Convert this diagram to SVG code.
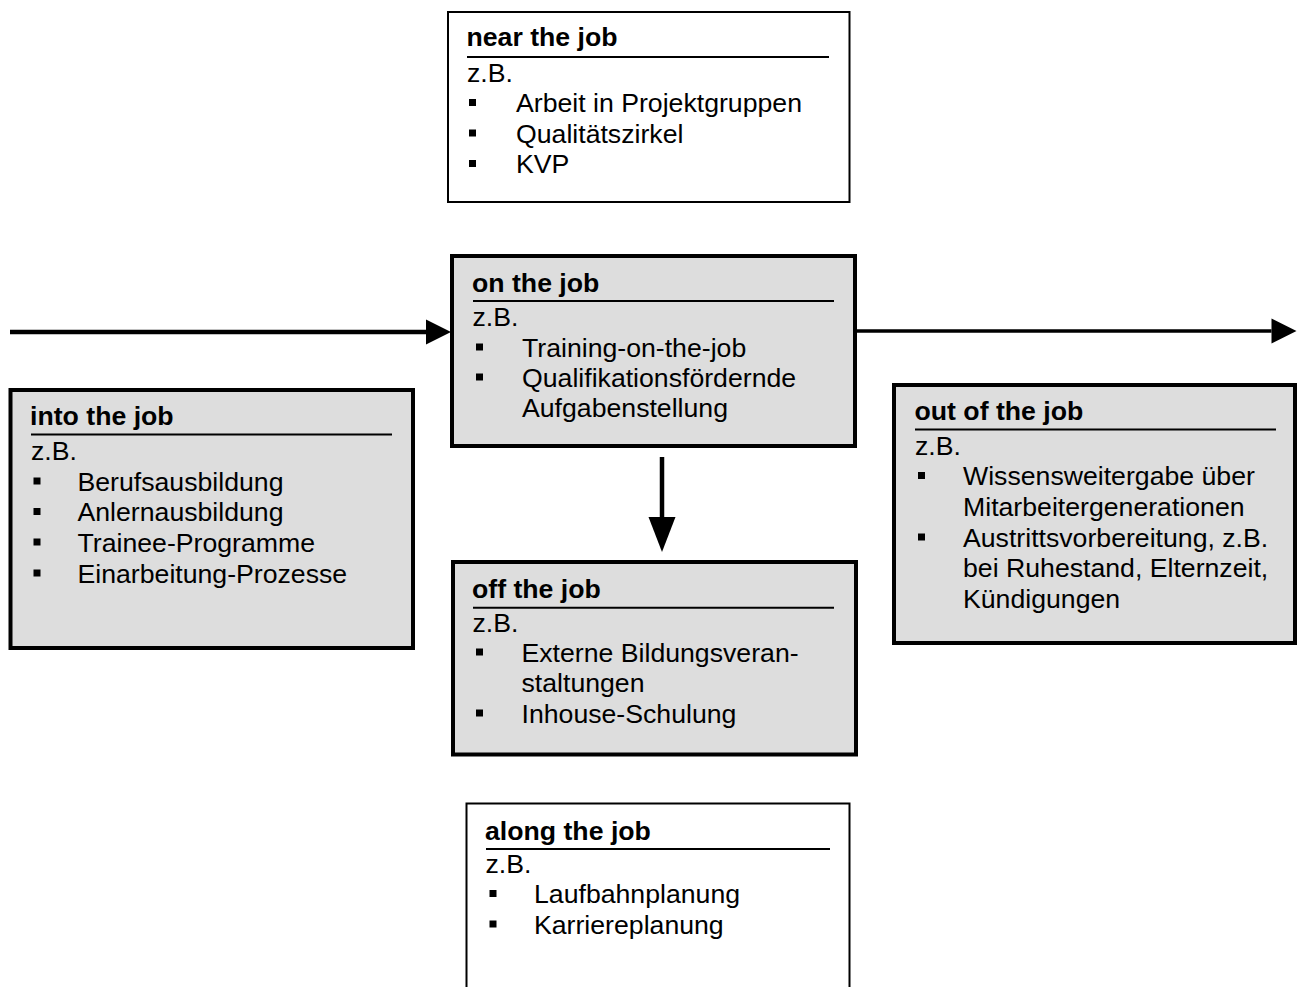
<svg xmlns="http://www.w3.org/2000/svg" width="1298" height="987" viewBox="0 0 1298 987">
<style>
.box{fill:#dddddd;stroke:#000;stroke-width:4}
.wbox{fill:#fff;stroke:#000;stroke-width:2}
text{font-family:"Liberation Sans",Arial,sans-serif;font-size:26.67px;fill:#000}
.t{font-weight:bold}
.ul{stroke:#000;stroke-width:2}
.conn{stroke:#000;fill:none}
</style>
<defs>
<marker id="ah" markerUnits="userSpaceOnUse" markerWidth="26" markerHeight="26" refX="0" refY="13" orient="auto" viewBox="0 0 26 26" overflow="visible">
<path d="M0,0.5 L25,13 L0,25.5 Z" fill="#000"/>
</marker>
<marker id="ahd" markerUnits="userSpaceOnUse" markerWidth="35" markerHeight="28" refX="0" refY="14" orient="auto" viewBox="0 0 35 28" overflow="visible">
<path d="M0,0.5 L35,14 L0,27.5 Z" fill="#000"/>
</marker>
<rect id="bl" width="7" height="7" fill="#000"/>
</defs>
<rect width="1298" height="987" fill="#fff"/>

<g id="connectors">
<line class="conn" x1="10" y1="332" x2="426" y2="332" stroke-width="4.5" marker-end="url(#ah)"/>
<line class="conn" x1="857" y1="331" x2="1271.5" y2="331" stroke-width="3.5" marker-end="url(#ah)"/>
<line class="conn" x1="662" y1="457" x2="662" y2="517" stroke-width="4.5" marker-end="url(#ahd)"/>
</g>

<g id="near">
<rect class="wbox" x="448" y="12" width="401.5" height="190"/>
<text class="t" x="466.5" y="46">near the job</text>
<line class="ul" x1="467" y1="57" x2="829" y2="57"/>
<text x="467" y="81.5">z.B.</text>
<use href="#bl" x="469" y="99"/><text x="516" y="112">Arbeit in Projektgruppen</text>
<use href="#bl" x="469" y="129.5"/><text x="516" y="142.5">Qualitätszirkel</text>
<use href="#bl" x="469" y="160"/><text x="516" y="173">KVP</text>
</g>

<g id="on">
<rect class="box" x="452" y="256" width="403" height="190"/>
<text class="t" x="472" y="292">on the job</text>
<line class="ul" x1="473" y1="301" x2="834" y2="301"/>
<text x="472.5" y="326">z.B.</text>
<use href="#bl" x="476" y="343.5"/><text x="522" y="356.7">Training-on-the-job</text>
<use href="#bl" x="476" y="373.5"/><text x="522" y="386.7">Qualifikationsfördernde</text>
<text x="522" y="417">Aufgabenstellung</text>
</g>

<g id="into">
<rect class="box" x="10.5" y="390" width="402.5" height="258"/>
<text class="t" x="30" y="425">into the job</text>
<line class="ul" x1="31" y1="434.5" x2="392" y2="434.5"/>
<text x="31" y="460">z.B.</text>
<use href="#bl" x="33.5" y="477.5"/><text x="77.5" y="490.7">Berufsausbildung</text>
<use href="#bl" x="33.5" y="508"/><text x="77.5" y="521.3">Anlernausbildung</text>
<use href="#bl" x="33.5" y="538.5"/><text x="77.5" y="552">Trainee-Programme</text>
<use href="#bl" x="33.5" y="569.5"/><text x="77.5" y="582.7">Einarbeitung-Prozesse</text>
</g>

<g id="out">
<rect class="box" x="894" y="385" width="401" height="258"/>
<text class="t" x="914.5" y="420">out of the job</text>
<line class="ul" x1="915" y1="429.5" x2="1276" y2="429.5"/>
<text x="915" y="455">z.B.</text>
<use href="#bl" x="918" y="472"/><text x="963" y="485.3">Wissensweitergabe über</text>
<text x="963" y="516">Mitarbeitergenerationen</text>
<use href="#bl" x="918" y="533.5"/><text x="963" y="546.7">Austrittsvorbereitung, z.B.</text>
<text x="963" y="577.3">bei Ruhestand, Elternzeit,</text>
<text x="963" y="608">Kündigungen</text>
</g>

<g id="off">
<rect class="box" x="453" y="562" width="403" height="192.5"/>
<text class="t" x="472" y="598.3">off the job</text>
<line class="ul" x1="473" y1="607.7" x2="834" y2="607.7"/>
<text x="472.5" y="631.7">z.B.</text>
<use href="#bl" x="476" y="648.5"/><text x="521.5" y="661.7">Externe Bildungsveran-</text>
<text x="521.5" y="692.3">staltungen</text>
<use href="#bl" x="476" y="709.5"/><text x="521.5" y="723">Inhouse-Schulung</text>
</g>

<g id="along">
<rect class="wbox" x="466.5" y="803.5" width="383" height="200"/>
<text class="t" x="485" y="840">along the job</text>
<line class="ul" x1="486" y1="849" x2="830" y2="849"/>
<text x="485.5" y="873.3">z.B.</text>
<use href="#bl" x="489.5" y="890"/><text x="534" y="903.3">Laufbahnplanung</text>
<use href="#bl" x="489.5" y="920.5"/><text x="534" y="933.7">Karriereplanung</text>
</g>
</svg>
